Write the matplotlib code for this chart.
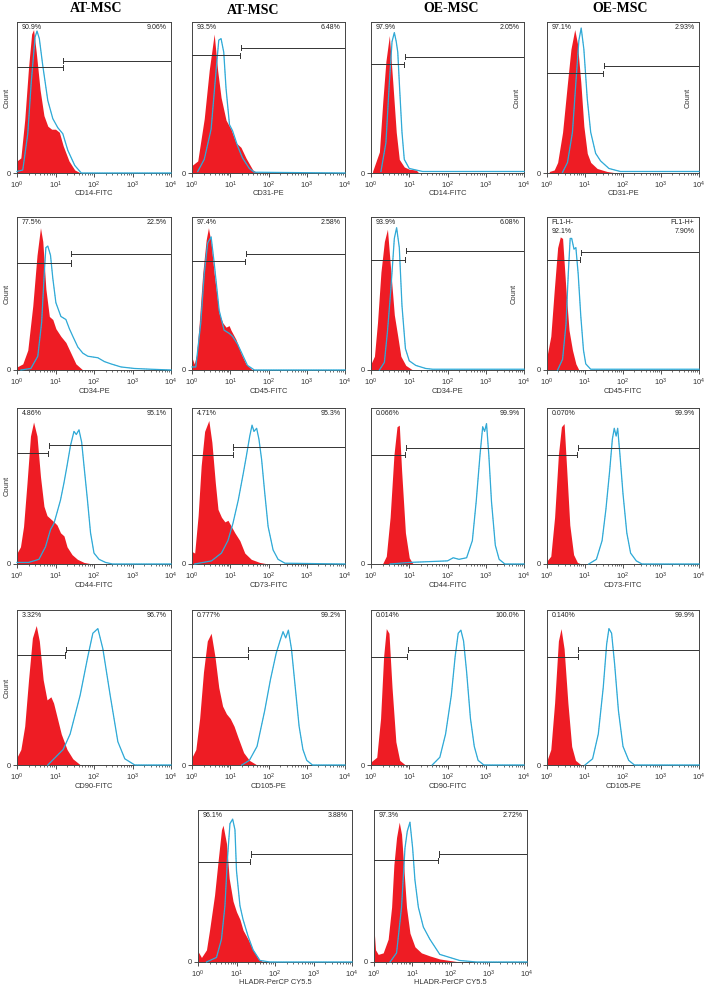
import matplotlib.pyplot as plt
import numpy as np
from matplotlib.ticker import LogLocator, NullFormatter

plt.rcParams['font.family'] = ['Liberation Sans', 'DejaVu Sans']
plt.rcParams['mathtext.fontset'] = 'custom'
plt.rcParams['mathtext.rm'] = 'Liberation Sans'
plt.rcParams['mathtext.default'] = 'regular'

# histograms: (log10 fluorescence, relative count)
# red = isotype control, cyan = antibody
at_cd14_iso = [(0.0, 0.08), (0.1, 0.10), (0.2, 0.35), (0.3, 0.70), (0.38, 0.92), (0.43, 0.95), (0.5, 0.80),
               (0.6, 0.55), (0.7, 0.38), (0.8, 0.31), (0.9, 0.29), (1.0, 0.29), (1.1, 0.27), (1.2, 0.18),
               (1.35, 0.08), (1.5, 0.02), (1.65, 0.0), (4.0, 0.0)]
at_cd14_mab = [(0.0, 0.01), (0.15, 0.02), (0.28, 0.26), (0.37, 0.60), (0.47, 0.90), (0.52, 0.94), (0.58, 0.89),
               (0.67, 0.71), (0.8, 0.48), (0.93, 0.36), (1.06, 0.30), (1.19, 0.26), (1.32, 0.15), (1.5, 0.05),
               (1.67, 0.0), (4.0, 0.0)]
at_cd31_iso = [(0.0, 0.05), (0.15, 0.08), (0.32, 0.36), (0.45, 0.68), (0.58, 0.92), (0.67, 0.68), (0.76, 0.50),
               (0.89, 0.35), (1.02, 0.29), (1.15, 0.20), (1.28, 0.17), (1.41, 0.10), (1.59, 0.02), (1.72, 0.0),
               (4.0, 0.0)]
at_cd31_mab = [(0.15, 0.01), (0.32, 0.09), (0.5, 0.29), (0.63, 0.68), (0.7, 0.88), (0.76, 0.89), (0.83, 0.80),
               (0.89, 0.56), (0.98, 0.32), (1.06, 0.28), (1.19, 0.18), (1.32, 0.10), (1.5, 0.03), (1.63, 0.005),
               (4.0, 0.0)]
oe_cd14_iso = [(0.04, 0.01), (0.22, 0.14), (0.31, 0.48), (0.39, 0.74), (0.48, 0.91), (0.57, 0.60), (0.66, 0.27),
               (0.74, 0.09), (0.87, 0.04), (1.0, 0.025), (1.18, 0.02), (1.25, 0.0), (4.0, 0.0)]
oe_cd14_mab = [(0.26, 0.01), (0.39, 0.20), (0.48, 0.60), (0.55, 0.87), (0.61, 0.93), (0.66, 0.87), (0.70, 0.80),
               (0.74, 0.60), (0.81, 0.27), (0.87, 0.09), (1.0, 0.03), (1.35, 0.01), (4.0, 0.01)]
oe_cd31_iso = [(0.06, 0.01), (0.19, 0.02), (0.28, 0.07), (0.41, 0.27), (0.54, 0.60), (0.63, 0.82), (0.73, 0.95),
               (0.80, 0.86), (0.89, 0.60), (0.97, 0.31), (1.06, 0.13), (1.15, 0.07), (1.32, 0.03), (1.58, 0.01),
               (1.84, 0.0), (4.0, 0.0)]
oe_cd31_mab = [(0.41, 0.005), (0.54, 0.07), (0.67, 0.27), (0.76, 0.60), (0.84, 0.88), (0.90, 0.96), (0.97, 0.82),
               (1.06, 0.49), (1.15, 0.27), (1.28, 0.13), (1.41, 0.08), (1.63, 0.03), (1.93, 0.01), (4.0, 0.01)]

at_cd34_iso = [(0.0, 0.02), (0.15, 0.04), (0.28, 0.13), (0.41, 0.42), (0.52, 0.75), (0.61, 0.93), (0.67, 0.84),
               (0.75, 0.53), (0.84, 0.35), (0.93, 0.33), (1.01, 0.27), (1.14, 0.22), (1.27, 0.18), (1.40, 0.11),
               (1.53, 0.04), (1.71, 0.0), (4.0, 0.0)]
at_cd34_mab = [(0.1, 0.0), (0.36, 0.01), (0.54, 0.09), (0.64, 0.31), (0.71, 0.64), (0.75, 0.80), (0.80, 0.81),
               (0.87, 0.75), (0.93, 0.60), (1.01, 0.44), (1.14, 0.35), (1.27, 0.33), (1.36, 0.27), (1.45, 0.22),
               (1.58, 0.15), (1.71, 0.11), (1.84, 0.09), (2.1, 0.08), (2.27, 0.055), (2.44, 0.04), (2.7, 0.02),
               (3.05, 0.01), (3.48, 0.005), (4.0, 0.0)]
at_cd45_iso = [(0.0, 0.08), (0.06, 0.04), (0.12, 0.10), (0.19, 0.31), (0.28, 0.63), (0.37, 0.85), (0.43, 0.93),
               (0.50, 0.83), (0.58, 0.63), (0.71, 0.37), (0.80, 0.31), (0.89, 0.28), (0.97, 0.29), (1.02, 0.26),
               (1.15, 0.20), (1.28, 0.11), (1.41, 0.04), (1.58, 0.0), (4.0, 0.0)]
at_cd45_mab = [(0.0, 0.02), (0.10, 0.02), (0.23, 0.31), (0.32, 0.63), (0.41, 0.83), (0.50, 0.87), (0.58, 0.70),
               (0.71, 0.39), (0.84, 0.26), (0.97, 0.24), (1.06, 0.22), (1.19, 0.17), (1.32, 0.10), (1.45, 0.03),
               (1.63, 0.0), (4.0, 0.0)]
oe_cd34_iso = [(0.0, 0.04), (0.09, 0.09), (0.17, 0.31), (0.26, 0.64), (0.35, 0.84), (0.43, 0.92), (0.52, 0.64),
               (0.61, 0.36), (0.70, 0.22), (0.78, 0.09), (0.91, 0.03), (1.09, 0.0), (4.0, 0.0)]
oe_cd34_mab = [(0.22, 0.0), (0.35, 0.05), (0.43, 0.25), (0.52, 0.53), (0.61, 0.86), (0.67, 0.93), (0.74, 0.80),
               (0.81, 0.42), (0.90, 0.14), (1.0, 0.06), (1.17, 0.03), (1.43, 0.01), (1.61, 0.005), (4.0, 0.005)]
oe_cd45_iso = [(0.0, 0.09), (0.10, 0.22), (0.19, 0.52), (0.28, 0.80), (0.35, 0.87), (0.41, 0.86), (0.50, 0.52),
               (0.58, 0.26), (0.67, 0.13), (0.76, 0.04), (0.84, 0.0), (4.0, 0.0)]
oe_cd45_mab = [(0.28, 0.0), (0.41, 0.07), (0.50, 0.30), (0.56, 0.63), (0.61, 0.86), (0.65, 0.86), (0.71, 0.79),
               (0.76, 0.80), (0.82, 0.63), (0.89, 0.35), (0.96, 0.13), (1.02, 0.04), (1.15, 0.005), (4.0, 0.005)]

at_cd44_iso = [(0.0, 0.07), (0.09, 0.11), (0.17, 0.24), (0.26, 0.52), (0.35, 0.82), (0.43, 0.91), (0.52, 0.82),
               (0.61, 0.56), (0.70, 0.37), (0.78, 0.31), (0.87, 0.29), (0.96, 0.27), (1.04, 0.25), (1.13, 0.20),
               (1.22, 0.18), (1.30, 0.11), (1.43, 0.06), (1.57, 0.03), (1.74, 0.01), (1.96, 0.0), (4.0, 0.0)]
at_cd44_mab = [(0.0, 0.01), (0.3, 0.01), (0.57, 0.03), (0.74, 0.11), (0.87, 0.22), (0.96, 0.26), (1.04, 0.33),
               (1.13, 0.41), (1.22, 0.52), (1.30, 0.63), (1.39, 0.76), (1.48, 0.85), (1.54, 0.83), (1.61, 0.86),
               (1.68, 0.78), (1.74, 0.63), (1.83, 0.41), (1.91, 0.20), (2.0, 0.07), (2.13, 0.03), (2.30, 0.01),
               (2.48, 0.0), (4.0, 0.0)]
at_cd73_iso = [(0.0, 0.08), (0.07, 0.07), (0.16, 0.31), (0.24, 0.63), (0.33, 0.85), (0.44, 0.92), (0.52, 0.78),
               (0.61, 0.52), (0.68, 0.35), (0.77, 0.30), (0.86, 0.27), (0.94, 0.28), (1.03, 0.24), (1.12, 0.20),
               (1.25, 0.15), (1.38, 0.07), (1.55, 0.03), (1.77, 0.01), (1.99, 0.0), (4.0, 0.0)]
at_cd73_mab = [(0.07, 0.0), (0.51, 0.02), (0.77, 0.07), (0.94, 0.15), (1.07, 0.26), (1.21, 0.41), (1.34, 0.58),
               (1.42, 0.69), (1.51, 0.82), (1.57, 0.89), (1.62, 0.85), (1.69, 0.87), (1.75, 0.80), (1.82, 0.67),
               (1.90, 0.46), (1.99, 0.24), (2.12, 0.09), (2.25, 0.03), (2.43, 0.005), (4.0, 0.0)]
oe_cd44_iso = [(0.3, 0.0), (0.4, 0.05), (0.5, 0.30), (0.6, 0.70), (0.68, 0.88), (0.74, 0.89), (0.8, 0.60),
               (0.9, 0.20), (1.0, 0.04), (1.1, 0.0), (4.0, 0.0)]
oe_cd44_mab = [(0.5, 0.0), (1.0, 0.01), (2.0, 0.02), (2.15, 0.04), (2.3, 0.03), (2.5, 0.04), (2.65, 0.15),
               (2.75, 0.40), (2.85, 0.70), (2.92, 0.88), (2.97, 0.85), (3.02, 0.90), (3.08, 0.70), (3.15, 0.40),
               (3.25, 0.12), (3.35, 0.03), (3.5, 0.0), (4.0, 0.0)]
oe_cd73_iso = [(0.0, 0.02), (0.1, 0.05), (0.2, 0.30), (0.3, 0.70), (0.38, 0.88), (0.45, 0.90), (0.52, 0.60),
               (0.6, 0.25), (0.7, 0.06), (0.8, 0.01), (0.9, 0.0), (4.0, 0.0)]
oe_cd73_mab = [(1.1, 0.0), (1.3, 0.03), (1.45, 0.15), (1.55, 0.35), (1.65, 0.60), (1.72, 0.80), (1.77, 0.87),
               (1.82, 0.82), (1.86, 0.87), (1.92, 0.70), (2.0, 0.45), (2.1, 0.20), (2.2, 0.07), (2.35, 0.02),
               (2.5, 0.0), (4.0, 0.0)]

at_cd90_iso = [(0.0, 0.05), (0.1, 0.10), (0.2, 0.25), (0.3, 0.55), (0.4, 0.82), (0.5, 0.90), (0.58, 0.80),
               (0.68, 0.55), (0.78, 0.42), (0.88, 0.44), (0.95, 0.40), (1.05, 0.30), (1.15, 0.20), (1.3, 0.10),
               (1.45, 0.04), (1.65, 0.0), (4.0, 0.0)]
at_cd90_mab = [(0.8, 0.0), (1.0, 0.05), (1.2, 0.10), (1.38, 0.20), (1.64, 0.45), (1.84, 0.70), (1.97, 0.85),
               (2.1, 0.88), (2.23, 0.75), (2.42, 0.45), (2.62, 0.15), (2.8, 0.04), (3.06, 0.0), (4.0, 0.0)]
at_cd105_iso = [(0.0, 0.05), (0.1, 0.10), (0.2, 0.30), (0.3, 0.60), (0.4, 0.80), (0.5, 0.85), (0.6, 0.70),
                (0.7, 0.50), (0.8, 0.38), (0.9, 0.33), (1.0, 0.30), (1.1, 0.25), (1.2, 0.18), (1.35, 0.08),
                (1.5, 0.03), (1.7, 0.0), (4.0, 0.0)]
at_cd105_mab = [(1.3, 0.0), (1.5, 0.03), (1.7, 0.12), (1.9, 0.35), (2.05, 0.55), (2.2, 0.72), (2.3, 0.80),
                (2.38, 0.86), (2.45, 0.82), (2.52, 0.87), (2.6, 0.75), (2.7, 0.50), (2.8, 0.25), (2.9, 0.10),
                (3.0, 0.03), (3.15, 0.0), (4.0, 0.0)]
oe_cd90_iso = [(0.0, 0.02), (0.15, 0.05), (0.25, 0.30), (0.33, 0.70), (0.4, 0.88), (0.47, 0.85), (0.55, 0.50),
               (0.65, 0.15), (0.75, 0.03), (0.9, 0.0), (4.0, 0.0)]
oe_cd90_mab = [(1.6, 0.0), (1.8, 0.05), (1.95, 0.20), (2.1, 0.45), (2.2, 0.70), (2.28, 0.85), (2.35, 0.87),
               (2.42, 0.80), (2.5, 0.60), (2.6, 0.30), (2.7, 0.12), (2.8, 0.03), (2.95, 0.0), (4.0, 0.0)]
oe_cd105_iso = [(0.0, 0.03), (0.1, 0.10), (0.2, 0.40), (0.3, 0.80), (0.37, 0.88), (0.45, 0.75), (0.55, 0.40),
                (0.65, 0.12), (0.75, 0.03), (0.9, 0.0), (4.0, 0.0)]
oe_cd105_mab = [(1.0, 0.0), (1.2, 0.04), (1.35, 0.20), (1.48, 0.50), (1.57, 0.78), (1.63, 0.88), (1.7, 0.85),
                (1.78, 0.65), (1.88, 0.35), (2.0, 0.12), (2.15, 0.03), (2.3, 0.0), (4.0, 0.0)]

at_hladr_iso = [(0.0, 0.07), (0.09, 0.03), (0.22, 0.08), (0.30, 0.21), (0.43, 0.44), (0.52, 0.66), (0.61, 0.87),
                (0.65, 0.90), (0.74, 0.78), (0.81, 0.55), (0.91, 0.40), (1.0, 0.33), (1.09, 0.28), (1.17, 0.21),
                (1.30, 0.15), (1.43, 0.08), (1.57, 0.02), (1.70, 0.0), (4.0, 0.0)]
at_hladr_mab = [(0.22, 0.0), (0.48, 0.03), (0.61, 0.15), (0.70, 0.37), (0.76, 0.66), (0.83, 0.91), (0.90, 0.94),
                (0.96, 0.87), (1.0, 0.60), (1.09, 0.37), (1.17, 0.28), (1.30, 0.17), (1.43, 0.08), (1.61, 0.01),
                (1.87, 0.0), (4.0, 0.0)]
oe_hladr_iso = [(0.0, 0.22), (0.04, 0.08), (0.11, 0.05), (0.24, 0.06), (0.37, 0.15), (0.46, 0.36), (0.52, 0.64),
                (0.59, 0.82), (0.66, 0.92), (0.72, 0.84), (0.78, 0.62), (0.85, 0.36), (0.94, 0.19), (1.07, 0.10),
                (1.24, 0.06), (1.46, 0.04), (1.72, 0.02), (1.98, 0.01), (2.24, 0.0), (4.0, 0.0)]
oe_hladr_mab = [(0.42, 0.0), (0.59, 0.06), (0.72, 0.36), (0.81, 0.75), (0.87, 0.86), (0.94, 0.92), (1.01, 0.75),
                (1.07, 0.54), (1.16, 0.36), (1.29, 0.23), (1.46, 0.15), (1.59, 0.10), (1.72, 0.05), (1.98, 0.03),
                (2.24, 0.01), (2.68, 0.0), (4.0, 0.0)]

# gate threshold (log10), percentages left / right of the gate
gate_at = [1.19, 1.26, 0.87, 1.48, 1.39, 1.39, 0.90, 0.87, 0.81, 1.06, 0.89, 0.80,
           1.25, 1.46, 0.94, 0.81, 1.35, 1.68]
neg_pct = ['90.9%', '93.5%', '97.9%', '97.1%', '77.5%', '97.4%', '93.9%', 'FL1-H-\n92.1%',
           '4.86%', '4.71%', '0.066%', '0.070%', '3.32%', '0.777%', '0.014%', '0.140%', '96.1%', '97.3%']
pos_pct = ['9.06%', '6.48%', '2.05%', '2.93%', '22.5%', '2.58%', '6.08%', 'FL1-H+\n7.90%',
           '95.1%', '95.3%', '99.9%', '99.9%', '96.7%', '99.2%', '100.0%', '99.9%', '3.88%', '2.72%']
markers = ['CD14-FITC', 'CD31-PE', 'CD14-FITC', 'CD31-PE',
           'CD34-PE', 'CD45-FITC', 'CD34-PE', 'CD45-FITC',
           'CD44-FITC', 'CD73-FITC', 'CD44-FITC', 'CD73-FITC',
           'CD90-FITC', 'CD105-PE', 'CD90-FITC', 'CD105-PE',
           'HLADR-PerCP CY5.5', 'HLADR-PerCP CY5.5']
curves = [(at_cd14_iso, at_cd14_mab), (at_cd31_iso, at_cd31_mab), (oe_cd14_iso, oe_cd14_mab), (oe_cd31_iso, oe_cd31_mab),
          (at_cd34_iso, at_cd34_mab), (at_cd45_iso, at_cd45_mab), (oe_cd34_iso, oe_cd34_mab), (oe_cd45_iso, oe_cd45_mab),
          (at_cd44_iso, at_cd44_mab), (at_cd73_iso, at_cd73_mab), (oe_cd44_iso, oe_cd44_mab), (oe_cd73_iso, oe_cd73_mab),
          (at_cd90_iso, at_cd90_mab), (at_cd105_iso, at_cd105_mab), (oe_cd90_iso, oe_cd90_mab), (oe_cd105_iso, oe_cd105_mab),
          (at_hladr_iso, at_hladr_mab), (oe_hladr_iso, oe_hladr_mab)]

# layout (pixels): panel boxes, gate bar heights, where "Count" goes
W, H = 706, 991
rows = [(22, 173), (217, 370), (408, 564), (610, 765), (810, 962)]
cols = [(17, 171), (192, 345), (371, 524), (547, 699)]
cols_last = [(198, 352), (374, 527)]
gate_levels = [(0.70, 0.745), (0.78, 0.83), (0.72, 0.77), (0.66, 0.71),
               (0.70, 0.76), (0.71, 0.76), (0.72, 0.78), (0.72, 0.77),
               (0.71, 0.76), (0.70, 0.75), (0.70, 0.745), (0.70, 0.745),
               (0.71, 0.745), (0.70, 0.745), (0.70, 0.745), (0.70, 0.745),
               (0.66, 0.71), (0.67, 0.71)]
count_left = {0, 4, 8, 12}
count_right = {2: 0.955, 3: 0.93, 6: 0.935}

RED = '#ee1c24'
CYAN = '#1eb0e2'
DASH = '#7f8fa6'
INK = '#333333'

fig = plt.figure(figsize=(W / 100, H / 100), dpi=100)

titles = [('AT-MSC', 96, 9), ('AT-MSC', 253, 10), ('OE-MSC', 451, 8), ('OE-MSC', 620, 8)]
for t, x, y in titles:
    fig.text(x / W, 1 - y / H, t, ha='center', va='center', fontsize=10,
             fontweight='bold', family='Liberation Serif')

for i, (iso, mab) in enumerate(curves):
    r = i // 4
    if r < 4:
        x0, x1 = cols[i % 4]
    else:
        x0, x1 = cols_last[i - 16]
    y0, y1 = rows[r]
    ax = fig.add_axes([x0 / W, 1 - y1 / H, (x1 - x0) / W, (y1 - y0) / H])

    u, c = np.array(iso).T
    ax.fill_between(10 ** u, c, color=RED, lw=0, zorder=2)
    u, c = np.array(mab).T
    ax.plot(10 ** u, c, color=CYAN, lw=0.9, zorder=3, clip_on=False)
    ax.plot(10 ** u, c, color=DASH, lw=0.3, ls=(0, (3, 3)), zorder=3.1, clip_on=False)

    # gate marker
    g = 10 ** gate_at[i]
    lo, hi = gate_levels[i]
    bar = 0.017
    ax.plot([1, g], [lo, lo], color=INK, lw=0.7, zorder=4)
    ax.plot([g, g], [lo - bar, lo + bar], color=INK, lw=0.7, zorder=4)
    ax.plot([g * 1.04, 1e4], [hi, hi], color=INK, lw=0.7, zorder=4)
    ax.plot([g * 1.04] * 2, [hi - bar, hi + bar], color=INK, lw=0.7, zorder=4)

    ax.text(0.03, 0.99, neg_pct[i], transform=ax.transAxes, ha='left', va='top',
            fontsize=5, color='#222222', linespacing=1.5)
    ax.text(0.97, 0.99, pos_pct[i], transform=ax.transAxes, ha='right', va='top',
            fontsize=5, color='#222222', linespacing=1.5)

    ax.set_xscale('log')
    ax.set_xlim(1, 1e4)
    ax.set_ylim(0, 1)
    ax.set_xticks([1, 10, 100, 1000, 10000], [r'$10^{%d}$' % k for k in range(5)])
    ax.xaxis.set_minor_locator(LogLocator(base=10, subs=range(2, 10)))
    ax.xaxis.set_minor_formatter(NullFormatter())
    ax.set_yticks([0], ['0'])
    ax.tick_params(axis='x', which='major', length=3, width=0.6, pad=1.5, labelsize=5.4, colors=INK)
    ax.tick_params(axis='x', which='minor', length=1.6, width=0.5, colors=INK)
    ax.tick_params(axis='y', length=3, width=0.6, pad=1.5, labelsize=5.4, colors=INK)
    for s in ax.spines.values():
        s.set_color('#444444')
        s.set_linewidth(0.7)

    ax.set_xlabel(markers[i], fontsize=5.4, color=INK)
    ax.xaxis.set_label_coords(0.5, -0.115)

    if i in count_left:
        ax.text(-0.062, 0.5, 'Count', transform=ax.transAxes, rotation=90,
                ha='center', va='center', fontsize=5.4, color=INK)
    if i in count_right:
        ax.text(count_right[i], 0.5, 'Count', transform=ax.transAxes, rotation=90,
                ha='center', va='center', fontsize=5.4, color=INK)

fig.savefig('out.png', dpi=100)
